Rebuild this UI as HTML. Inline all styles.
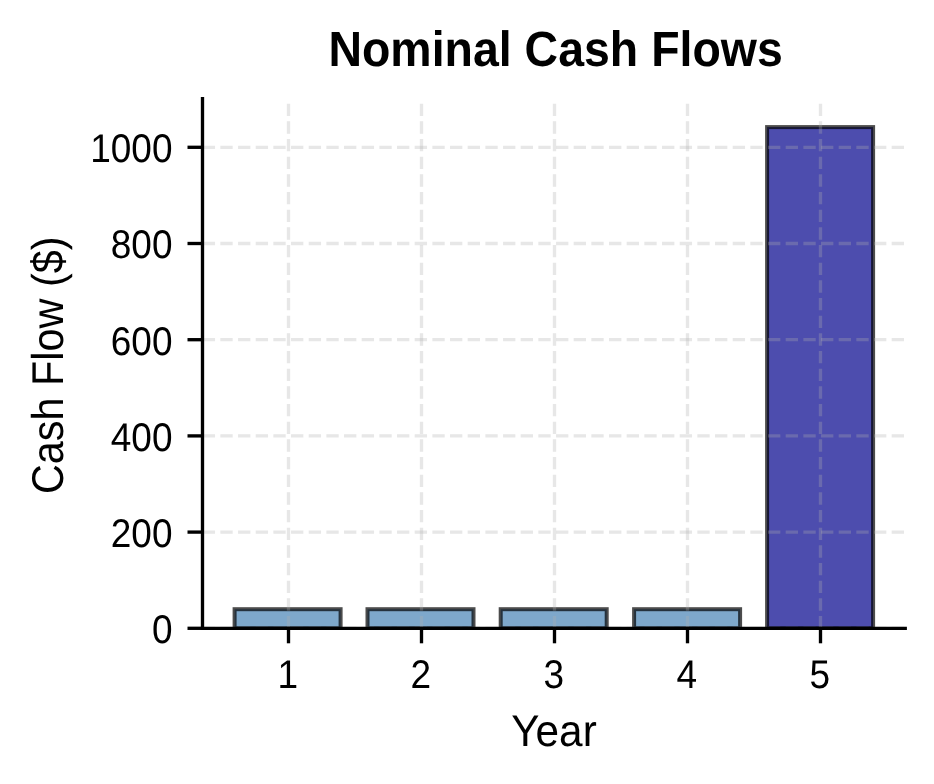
<!DOCTYPE html><html><head><meta charset="utf-8"><style>html,body{margin:0;padding:0;background:#fff;}svg{display:block;will-change:transform;}text{font-family:"Liberation Sans", sans-serif;fill:#000;text-rendering:geometricPrecision;}</style></head><body>
<svg width="934" height="784" viewBox="0 0 934 784">
<rect width="934" height="784" fill="#fff"/>
<defs><clipPath id="ax"><rect x="0" y="0" width="934" height="628.30"/></clipPath></defs>
<g clip-path="url(#ax)">
<rect x="234.60" y="609.20" width="106.00" height="19.10" fill="#7ea8cb" stroke="#000" stroke-opacity="0.7" stroke-width="4.0"/>
<rect x="367.50" y="609.20" width="106.00" height="19.10" fill="#7ea8cb" stroke="#000" stroke-opacity="0.7" stroke-width="4.0"/>
<rect x="500.70" y="609.20" width="106.00" height="19.10" fill="#7ea8cb" stroke="#000" stroke-opacity="0.7" stroke-width="4.0"/>
<rect x="634.10" y="609.20" width="106.00" height="19.10" fill="#7ea8cb" stroke="#000" stroke-opacity="0.7" stroke-width="4.0"/>
<rect x="767.10" y="127.10" width="106.00" height="501.20" fill="#4d4dae" stroke="#000" stroke-opacity="0.7" stroke-width="4.0"/>
</g>
<g stroke="#b0b0b0" stroke-opacity="0.3" stroke-width="3.33" stroke-dasharray="12.333 5.333"><line x1="202.7" y1="628.30" x2="905.6" y2="628.30"/><line x1="202.7" y1="532.10" x2="905.6" y2="532.10"/><line x1="202.7" y1="435.90" x2="905.6" y2="435.90"/><line x1="202.7" y1="339.70" x2="905.6" y2="339.70"/><line x1="202.7" y1="243.50" x2="905.6" y2="243.50"/><line x1="202.7" y1="147.30" x2="905.6" y2="147.30"/><line x1="288.50" y1="628.3" x2="288.50" y2="98.6"/><line x1="421.50" y1="628.3" x2="421.50" y2="98.6"/><line x1="554.50" y1="628.3" x2="554.50" y2="98.6"/><line x1="687.50" y1="628.3" x2="687.50" y2="98.6"/><line x1="820.50" y1="628.3" x2="820.50" y2="98.6"/></g>
<line x1="202.5" y1="97.0" x2="202.5" y2="629.96" stroke="#000" stroke-width="3.33"/>
<line x1="200.84" y1="628.3" x2="906.9" y2="628.3" stroke="#000" stroke-width="3.33"/>
<g stroke="#000" stroke-width="3.33"><line x1="187.50" y1="628.30" x2="202.5" y2="628.30"/><line x1="187.50" y1="532.10" x2="202.5" y2="532.10"/><line x1="187.50" y1="435.90" x2="202.5" y2="435.90"/><line x1="187.50" y1="339.70" x2="202.5" y2="339.70"/><line x1="187.50" y1="243.50" x2="202.5" y2="243.50"/><line x1="187.50" y1="147.30" x2="202.5" y2="147.30"/><line x1="288.50" y1="628.3" x2="288.50" y2="643.30"/><line x1="421.50" y1="628.3" x2="421.50" y2="643.30"/><line x1="554.50" y1="628.3" x2="554.50" y2="643.30"/><line x1="687.50" y1="628.3" x2="687.50" y2="643.30"/><line x1="820.50" y1="628.3" x2="820.50" y2="643.30"/></g>
<text font-size="40" text-anchor="end" transform="translate(172.5 643.10) scale(0.925 1)">0</text>
<text font-size="40" text-anchor="end" transform="translate(172.5 546.90) scale(0.925 1)">200</text>
<text font-size="40" text-anchor="end" transform="translate(172.5 450.70) scale(0.925 1)">400</text>
<text font-size="40" text-anchor="end" transform="translate(172.5 354.50) scale(0.925 1)">600</text>
<text font-size="40" text-anchor="end" transform="translate(172.5 258.30) scale(0.925 1)">800</text>
<text font-size="40" text-anchor="end" transform="translate(172.5 162.10) scale(0.925 1)">1000</text>
<text font-size="40" text-anchor="middle" transform="translate(287.70 687.90) scale(0.925 1)">1</text>
<text font-size="40" text-anchor="middle" transform="translate(420.70 687.90) scale(0.925 1)">2</text>
<text font-size="40" text-anchor="middle" transform="translate(553.70 687.90) scale(0.925 1)">3</text>
<text font-size="40" text-anchor="middle" transform="translate(686.70 687.90) scale(0.925 1)">4</text>
<text font-size="40" text-anchor="middle" transform="translate(819.70 687.90) scale(0.925 1)">5</text>
<text font-size="49.6" font-weight="bold" text-anchor="middle" transform="translate(555.6 66) scale(0.937 1)">Nominal Cash Flows</text>
<text font-size="44.5" text-anchor="middle" transform="translate(554 746) scale(0.95 1)">Year</text>
<text x="0" y="0" font-size="44.5" text-anchor="middle" transform="translate(63.3 365.3) rotate(-90) scale(0.93 1)">Cash Flow ($)</text>
</svg></body></html>
